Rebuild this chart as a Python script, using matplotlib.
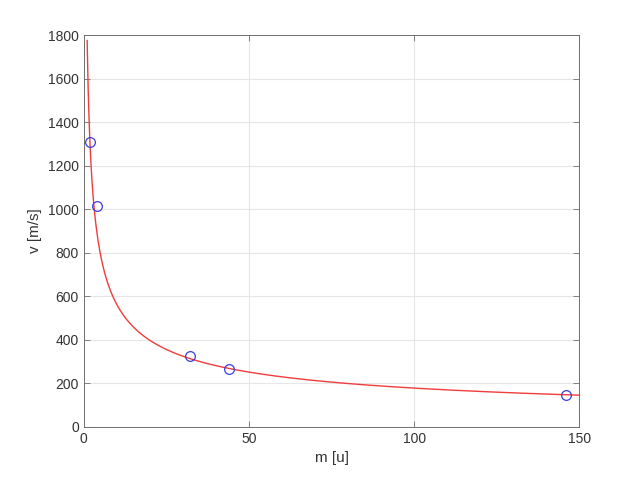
import numpy as np
import matplotlib
matplotlib.use("Agg")
import matplotlib.pyplot as plt

# measured gas molar masses and speeds
m_data = [2, 4, 32, 44, 146]
v_data = [1310, 1014, 326, 265, 146]

# fitted model v = k / sqrt(m)
k_fit = 1775
m_min, m_max = 1, 150

plt.rcParams['font.family'] = ['Liberation Sans', 'DejaVu Sans']
plt.rcParams['font.size'] = 10

fig = plt.figure(figsize=(6.4, 4.8), dpi=100)
ax = fig.add_axes([0.131, 0.111, 0.774, 0.816])

mm = np.linspace(m_min, m_max, 500)
ax.plot(mm, k_fit / np.sqrt(mm), color='#f03c3c', lw=1.0)
ax.plot(m_data, v_data, 'o', mfc='none', mec='#3c3ce6', ms=7, mew=0.9)

ax.set_xlim(0, 150)
ax.set_ylim(0, 1800)
ax.set_xticks([0, 50, 100, 150])
ax.set_yticks(range(0, 1801, 200))
ax.grid(True, color='#e6e6e6', lw=0.8)
ax.set_axisbelow(True)
for s in ax.spines.values():
    s.set_color('#707070')
    s.set_linewidth(0.7)
ax.tick_params(direction='in', colors='#707070', labelcolor='#333333',
               length=4, width=0.6, top=True, right=True, labelsize=10)
ax.set_xlabel('m [u]', color='#333333', fontsize=11)
ax.set_ylabel('v [m/s]', color='#333333', fontsize=11)

fig.savefig('out.png', dpi=100)
